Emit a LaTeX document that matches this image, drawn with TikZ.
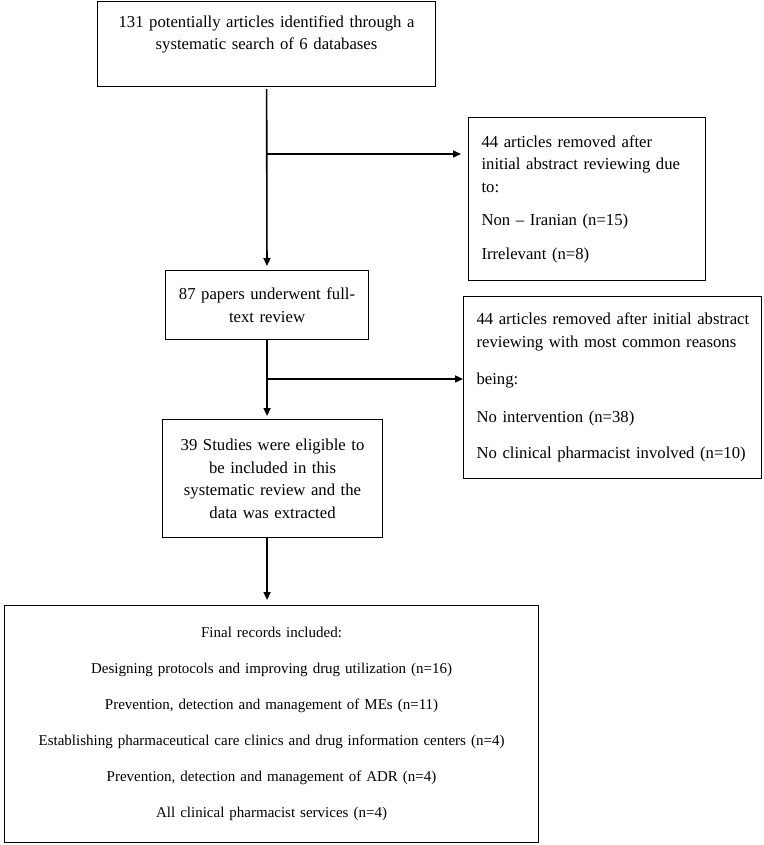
\documentclass[tikz,border=0pt]{standalone}
\usepackage{fontspec}
\setmainfont{Liberation Serif}
\usetikzlibrary{arrows.meta}
\begin{document}
\begin{tikzpicture}[x=1pt,y=-1pt,
    box/.style={draw,line width=1.1pt,anchor=north west,inner sep=0pt,
      font=\fontsize{16.7}{22.5}\selectfont},
    flow/.style={line width=1.6pt,-{Triangle[length=8pt,width=7pt]}}]
  \useasboundingbox (0,0) rectangle (763,845);
  \draw
    (97,1) node[box,minimum width=338pt,minimum height=85pt,text width=322pt,align=center] (search)
      {131 potentially articles identified through a\\systematic search of 6 databases\\\mbox{}}
    (468,117) node[box,minimum width=237pt,minimum height=163pt,text width=211pt,align=left] (excl1)
      {44 articles removed after\\initial abstract reviewing due\\to:\\[11pt]Non -- Iranian (n=15)\\[11pt]Irrelevant (n=8)}
    (165,270) node[box,minimum width=203pt,minimum height=69pt,text width=189pt,align=center] (full)
      {87 papers underwent full-\\text review}
    (463,296) node[box,minimum width=298pt,minimum height=182pt,text width=272pt,align=left] (excl2)
      {\mbox{44 articles removed after initial abstract}\\reviewing with most common reasons\\[15pt]being:\\[15pt]No intervention (n=38)\\[14pt]\mbox{No clinical pharmacist involved (n=10)}}
    (162,419) node[box,minimum width=220pt,minimum height=118pt,text width=206pt,align=center] (elig)
      {39 Studies were eligible to\\be included in this\\systematic review and the\\data was extracted}
    (4,605) node[box,minimum width=534pt,minimum height=237pt,text width=520pt,align=center,
      font=\fontsize{15}{36}\selectfont] (final)
      {Final records included:\\Designing protocols and improving drug utilization (n=16)\\Prevention, detection and management of MEs (n=11)\\Establishing pharmaceutical care clinics and drug information centers (n=4)\\Prevention, detection and management of ADR (n=4)\\All clinical pharmacist services (n=4)};
  \coordinate (b1) at (266,154);
  \coordinate (b2) at (266,379);
  \begin{scope}[flow]
    \draw[shorten <=2pt,shorten >=4pt] (search) to (full);
    \draw[shorten >=7pt] (b1) to (b1 -| excl1.west);
    \draw[shorten >=3pt] (full) to (full |- elig.north);
    \draw (b2) to (b2 -| excl2.west);
    \draw[shorten >=5pt] (full |- elig.south) to (full |- final.north);
  \end{scope}
\end{tikzpicture}
\end{document}
